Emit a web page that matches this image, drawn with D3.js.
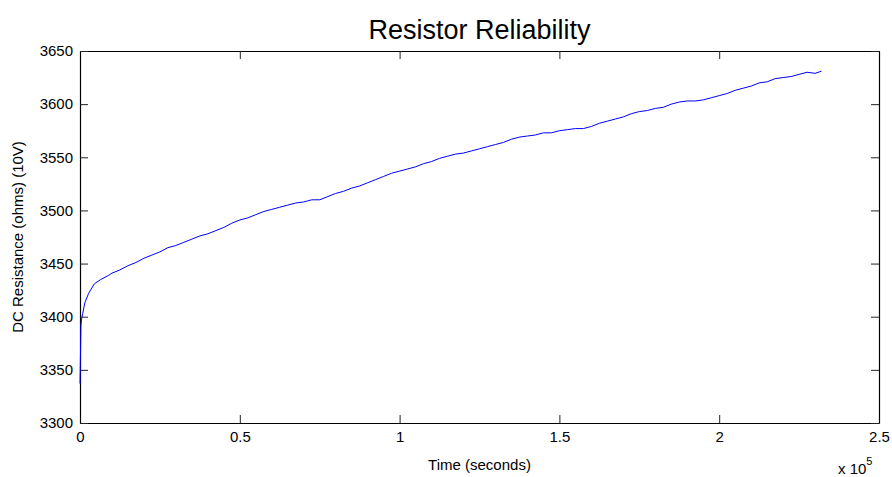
<!DOCTYPE html>
<html>
<head>
<meta charset="utf-8">
<script src="https://cdn.jsdelivr.net/npm/d3@7"></script>
<style>
  html, body { margin: 0; padding: 0; background: #fff; }
  svg { display: block; font-family: "Liberation Sans", Arial, sans-serif; }
</style>
</head>
<body>
<svg id="chart" width="892" height="477"></svg>
<script>
// Resistance log of a resistor under a constant 10 V test
const timeSeconds = [
  0, 150, 300, 500, 850, 1500, 2700, 4500, 6500, 9000,
  10000, 12500, 15000, 17500, 20000, 22500, 25000, 27500, 30000, 32500,
  35000, 37500, 40000, 42500, 45000, 47500, 50000, 52500, 55000, 57500,
  60000, 62500, 65000, 67500, 70000, 72500, 75000, 77500, 80000, 82500,
  85000, 87500, 90000, 92500, 95000, 97500, 100000, 102500, 105000, 107500,
  110000, 112500, 115000, 117500, 120000, 122500, 125000, 127500, 130000, 132500,
  135000, 137500, 140000, 142500, 145000, 147500, 150000, 152500, 155000, 157500,
  160000, 162500, 165000, 167500, 170000, 172500, 175000, 177500, 180000, 182500,
  185000, 187500, 190000, 192500, 195000, 197500, 200000, 202500, 205000, 207500,
  210000, 212500, 215000, 217500, 220000, 222500, 225000, 227500, 230000, 232000
];
const resistanceOhms = [
  3337, 3365, 3392, 3398, 3403, 3413, 3422, 3431, 3435, 3439,
  3441, 3444, 3448, 3451, 3455, 3458, 3461, 3465, 3467, 3470,
  3473, 3476, 3478, 3481, 3484, 3488, 3491, 3493, 3496, 3499,
  3501, 3503, 3505, 3507, 3508, 3510, 3510, 3513, 3516, 3518,
  3521, 3523, 3526, 3529, 3532, 3535, 3537, 3539, 3541, 3544,
  3546, 3549, 3551, 3553, 3554, 3556, 3558, 3560, 3562, 3564,
  3567, 3569, 3570, 3571, 3573, 3573, 3575, 3576, 3577, 3577,
  3579, 3582, 3584, 3586, 3588, 3591, 3593, 3594, 3596, 3597,
  3600, 3602, 3603, 3603, 3604, 3606, 3608, 3610, 3613, 3615,
  3617, 3620, 3621, 3624, 3625, 3626, 3628, 3630, 3629, 3631
];
const xTicks = [0, 50000, 100000, 150000, 200000, 250000];
const xTickLabels = ["0", "0.5", "1", "1.5", "2", "2.5"];
const yTicks = [3300, 3350, 3400, 3450, 3500, 3550, 3600, 3650];

const titleText = "Resistor Reliability";
const xLabelText = "Time (seconds)";
const yLabelText = "DC Resistance (ohms) (10V)";

const svg = d3.select("#chart");
const plot = { left: 80, top: 51, right: 879, bottom: 423 };

const x = d3.scaleLinear().domain([0, 250000]).range([plot.left, plot.right]);
const y = d3.scaleLinear().domain([3300, 3650]).range([plot.bottom, plot.top]);

const tickLen = 8;
const fontSize = 15;

// inward ticks on all four sides
const gx = svg.append("g").attr("transform", `translate(0,${plot.bottom})`)
  .call(d3.axisBottom(x).tickValues(xTicks).tickFormat((d, i) => xTickLabels[i])
    .tickSizeInner(-tickLen).tickSizeOuter(0).tickPadding(8));
const gxTop = svg.append("g").attr("transform", `translate(0,${plot.top})`)
  .call(d3.axisTop(x).tickValues(xTicks).tickFormat("")
    .tickSizeInner(-tickLen).tickSizeOuter(0));
const gy = svg.append("g").attr("transform", `translate(${plot.left},0)`)
  .call(d3.axisLeft(y).tickValues(yTicks).tickFormat(d3.format("d"))
    .tickSizeInner(-tickLen).tickSizeOuter(0).tickPadding(7));
const gyRight = svg.append("g").attr("transform", `translate(${plot.right},0)`)
  .call(d3.axisRight(y).tickValues(yTicks).tickFormat("")
    .tickSizeInner(-tickLen).tickSizeOuter(0));

[gx, gxTop, gy, gyRight].forEach(g => {
  g.select(".domain").attr("stroke", "#000").attr("stroke-width", 1.2);
  g.selectAll(".tick line").attr("stroke", "#222").attr("stroke-width", 1);
  g.selectAll(".tick text").attr("fill", "#000").style("font-size", fontSize + "px")
    .style("font-family", "'Liberation Sans', Arial, sans-serif");
});

// exponent note under the x axis
const expo = svg.append("text")
  .attr("x", 838).attr("y", 474)
  .attr("fill", "#000").style("font-size", fontSize + "px");
expo.append("tspan").text("x 10");
expo.append("tspan").attr("dy", -9).style("font-size", "11px").text("5");

// data line
const line = d3.line()
  .x((d, i) => x(timeSeconds[i]))
  .y(d => y(d));
svg.append("path")
  .datum(resistanceOhms)
  .attr("fill", "none")
  .attr("stroke", "#0000ff")
  .attr("stroke-width", 1)
  .attr("stroke-linejoin", "round")
  .attr("d", line);

// title and axis labels
svg.append("text")
  .attr("x", (plot.left + plot.right) / 2).attr("y", 39)
  .attr("text-anchor", "middle").attr("fill", "#000")
  .style("font-size", "27px").text(titleText);

svg.append("text")
  .attr("x", (plot.left + plot.right) / 2).attr("y", 470)
  .attr("text-anchor", "middle").attr("fill", "#000")
  .style("font-size", fontSize + "px").text(xLabelText);

svg.append("text")
  .attr("transform", `translate(23,${(plot.top + plot.bottom) / 2}) rotate(-90)`)
  .attr("text-anchor", "middle").attr("fill", "#000")
  .style("font-size", fontSize + "px").text(yLabelText);
</script>
</body>
</html>
